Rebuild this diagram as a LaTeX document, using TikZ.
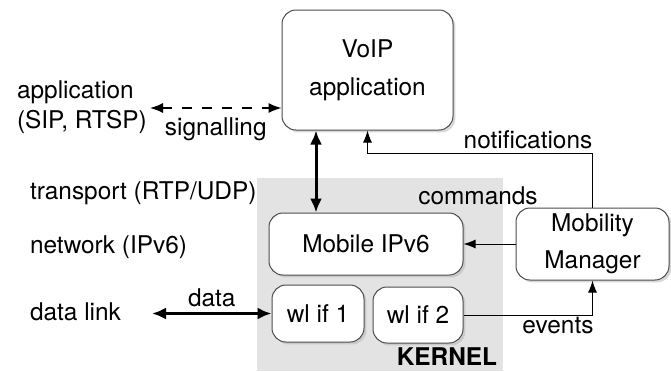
\documentclass[tikz,border=0pt]{standalone}
\usepackage{fontspec}
\setmainfont{TeX Gyre Heros}
\usetikzlibrary{arrows.meta,shadows,calc}
\begin{document}
\begin{tikzpicture}[x=0.5pt, y=-0.5pt,
   every node/.style={font=\fontsize{12.2}{15}\selectfont},
   box/.style={draw=black!70, line width=0.5pt, fill=white, rounded corners=7pt,
               align=center, inner sep=0pt,
               drop shadow={shadow xshift=1.2pt, shadow yshift=-1.2pt, fill=black!30}},
   layer/.style={anchor=west, align=left},
   link/.style={-{Latex[length=6pt,width=4.5pt]}, line width=0.5pt},
   biglink/.style={{Latex[length=7pt,width=6pt]}-{Latex[length=7pt,width=6pt]}, line width=1.5pt}]

\useasboundingbox (0,0) rectangle (671,371);
\fill[black!11] (257,178) rectangle (503,371);

% boxes
\node[box, minimum width=85.5pt, minimum height=60pt, font=\fontsize{12.2}{19}\selectfont]
   (voip) at (367.5,70) {VoIP\\application};
\node[box, minimum width=97pt, minimum height=31pt] (mip) at (366,244) {Mobile IPv6};
\node[box, minimum width=46pt, minimum height=28.5pt] (wlA) at (318,313.5) {wl if 1};
\node[box, minimum width=45pt, minimum height=28pt] (wlB) at (418,315) {wl if 2};
\node[box, minimum width=76.5pt, minimum height=36pt, font=\fontsize{12.2}{18.5}\selectfont]
   (mm) at (592.5,244) {Mobility\\Manager};
\node[font=\fontsize{12.2}{15}\selectfont\bfseries, inner sep=1pt] (kernel) at (447,357) {KERNEL};

% layers
\node[layer] (app) at (10,107) {application\\(SIP, RTSP)};
\node[layer] (tra) at (23,193) {transport (RTP/UDP)};
\node[layer] (net) at (23,247) {network (IPv6)};
\node[layer] (dl) at (23,312) {data link};

% connectors
\coordinate (sigL) at (150,108);
\draw[{Latex[length=6.5pt,width=5pt]}-{Latex[length=6.5pt,width=5pt]}, line width=0.7pt,
      dash pattern=on 5pt off 5pt] (sigL) -- (sigL -| voip.west)
   node[midway, below=1pt] (sig) {signalling};
\draw[biglink] ([xshift=-25.75pt]voip.south) -- ([xshift=-25.75pt]voip.south |- mip.north);
\coordinate (nt) at ($(voip.south)+(0,23)$);
\draw[link] (mm.north) |- (nt) -- (voip.south);
\node (notif) at (528,140) {notifications};
\draw[link] (mm.west) -- (mip.east);
\node (cmd) at (478,196) {commands};
\draw[link] (wlB.east) -| (mm.south);
\node (ev) at (558,326) {events};
\coordinate (dataL) at (152,313.5);
\draw[biglink] (dataL) -- (wlA.west) node[midway, above=-1pt] (data) {data};

\end{tikzpicture}
\end{document}
